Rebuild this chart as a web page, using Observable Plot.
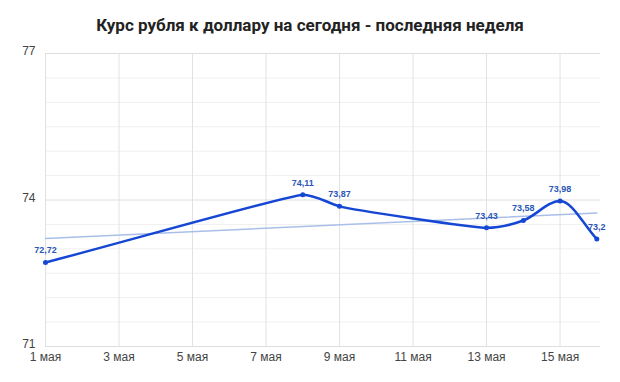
<!DOCTYPE html>
<html><head><meta charset="utf-8">
<script src="https://cdn.jsdelivr.net/npm/d3@7"></script>
<script src="https://cdn.jsdelivr.net/npm/@observablehq/plot@0.6"></script>
<style>
body{margin:0;background:#fff;font-family:Arial,"Liberation Sans",sans-serif;}
#title{height:40px;box-sizing:border-box;padding-top:15px;text-align:center;font-family:Roboto,Arial,sans-serif;font-weight:bold;font-size:17px;line-height:20px;color:#222;}
</style></head><body>
<div id="title">Курс рубля к доллару на сегодня - последняя неделя</div>
<div id="chart"></div>
<script>
const days = [1, 8, 9, 13, 14, 15, 16];
const rates = [72.72, 74.11, 73.87, 73.43, 73.58, 73.98, 73.2];
const rateLabels = ["72,72", "74,11", "73,87", "73,43", "73,58", "73,98", "73,2"];
const xTickDays = [1, 3, 5, 7, 9, 11, 13, 15];
const monthName = "мая";
const yTicks = [71, 74, 77];
const yMinorGrid = [71.5, 72, 72.5, 73, 73.5, 74.5, 75, 75.5, 76, 76.5];

const data = days.map((d, i) => ({day: d, rate: rates[i], label: rateLabels[i]}));
const blue = "#1547d4";

// Smooth curve with control handles limited by the shorter neighbouring segment
class LocalSmooth {
  constructor(ctx) { this._ctx = ctx; }
  areaStart() {} areaEnd() {}
  lineStart() { this._x = []; this._y = []; }
  point(x, y) { this._x.push(+x); this._y.push(+y); }
  lineEnd() {
    const X = this._x, Y = this._y, n = X.length, c = this._ctx;
    if (!n) return;
    c.moveTo(X[0], Y[0]);
    if (n < 3) { for (let i = 1; i < n; i++) c.lineTo(X[i], Y[i]); return; }
    const dx = [], s = [];
    for (let i = 0; i < n - 1; i++) { dx.push(X[i + 1] - X[i]); s.push((Y[i + 1] - Y[i]) / dx[i]); }
    const m = [], h = [];
    for (let i = 0; i < n; i++) {
      if (i === 0) { m.push(s[0]); h.push(dx[0] / 3); continue; }
      if (i === n - 1) { m.push(s[n - 2]); h.push(dx[n - 2] / 3); continue; }
      const s0 = s[i - 1], s1 = s[i], h0 = dx[i - 1], h1 = dx[i];
      if (s0 * s1 <= 0) m.push(0);
      else {
        const p = (s0 * h1 + s1 * h0) / (h0 + h1);
        m.push(Math.sign(s0) * Math.min(Math.abs(s0), Math.abs(s1), 0.5 * Math.abs(p)) * 2);
      }
      h.push(Math.min(h0, h1) / 3);
    }
    for (let i = 0; i < n - 1; i++) {
      c.bezierCurveTo(X[i] + h[i], Y[i] + m[i] * h[i], X[i + 1] - h[i + 1], Y[i + 1] - m[i + 1] * h[i + 1], X[i + 1], Y[i + 1]);
    }
  }
}

const chart = Plot.plot({
  width: 620,
  height: 342,
  marginLeft: 45,
  marginRight: 20,
  marginTop: 13,
  marginBottom: 36,
  style: {fontFamily: "Arial, 'Liberation Sans', sans-serif", fontSize: "12px", color: "#444", background: "#fff"},
  x: {domain: [1, 16.1], label: null},
  y: {domain: [71, 77], label: null},
  marks: [
    Plot.ruleY(yMinorGrid, {stroke: "#f0f0f0"}),
    Plot.ruleX(xTickDays, {stroke: "#e2e2e2"}),
    Plot.ruleY(yTicks, {stroke: "#dedede"}),
    Plot.axisX(xTickDays, {tickFormat: d => `${d} ${monthName}`, tickSize: 0, tickPadding: 6, label: null}),
    Plot.axisY(yTicks, {tickFormat: d => String(d), tickSize: 0, tickPadding: 10, dy: -2, label: null}),
    Plot.linearRegressionY(data, {x: "day", y: "rate", stroke: "#a9bfe9", strokeWidth: 1.5, ci: 0}),
    Plot.line(data, {x: "day", y: "rate", curve: ctx => new LocalSmooth(ctx), stroke: blue, strokeWidth: 2.5}),
    Plot.dot(data, {x: "day", y: "rate", r: 2.5, fill: blue}),
    Plot.text(data, {x: "day", y: "rate", text: "label", dy: -12, fill: "#2a56b8", fontWeight: "bold", fontSize: 9})
  ]
});
document.getElementById("chart").appendChild(chart);
</script>
</body></html>
